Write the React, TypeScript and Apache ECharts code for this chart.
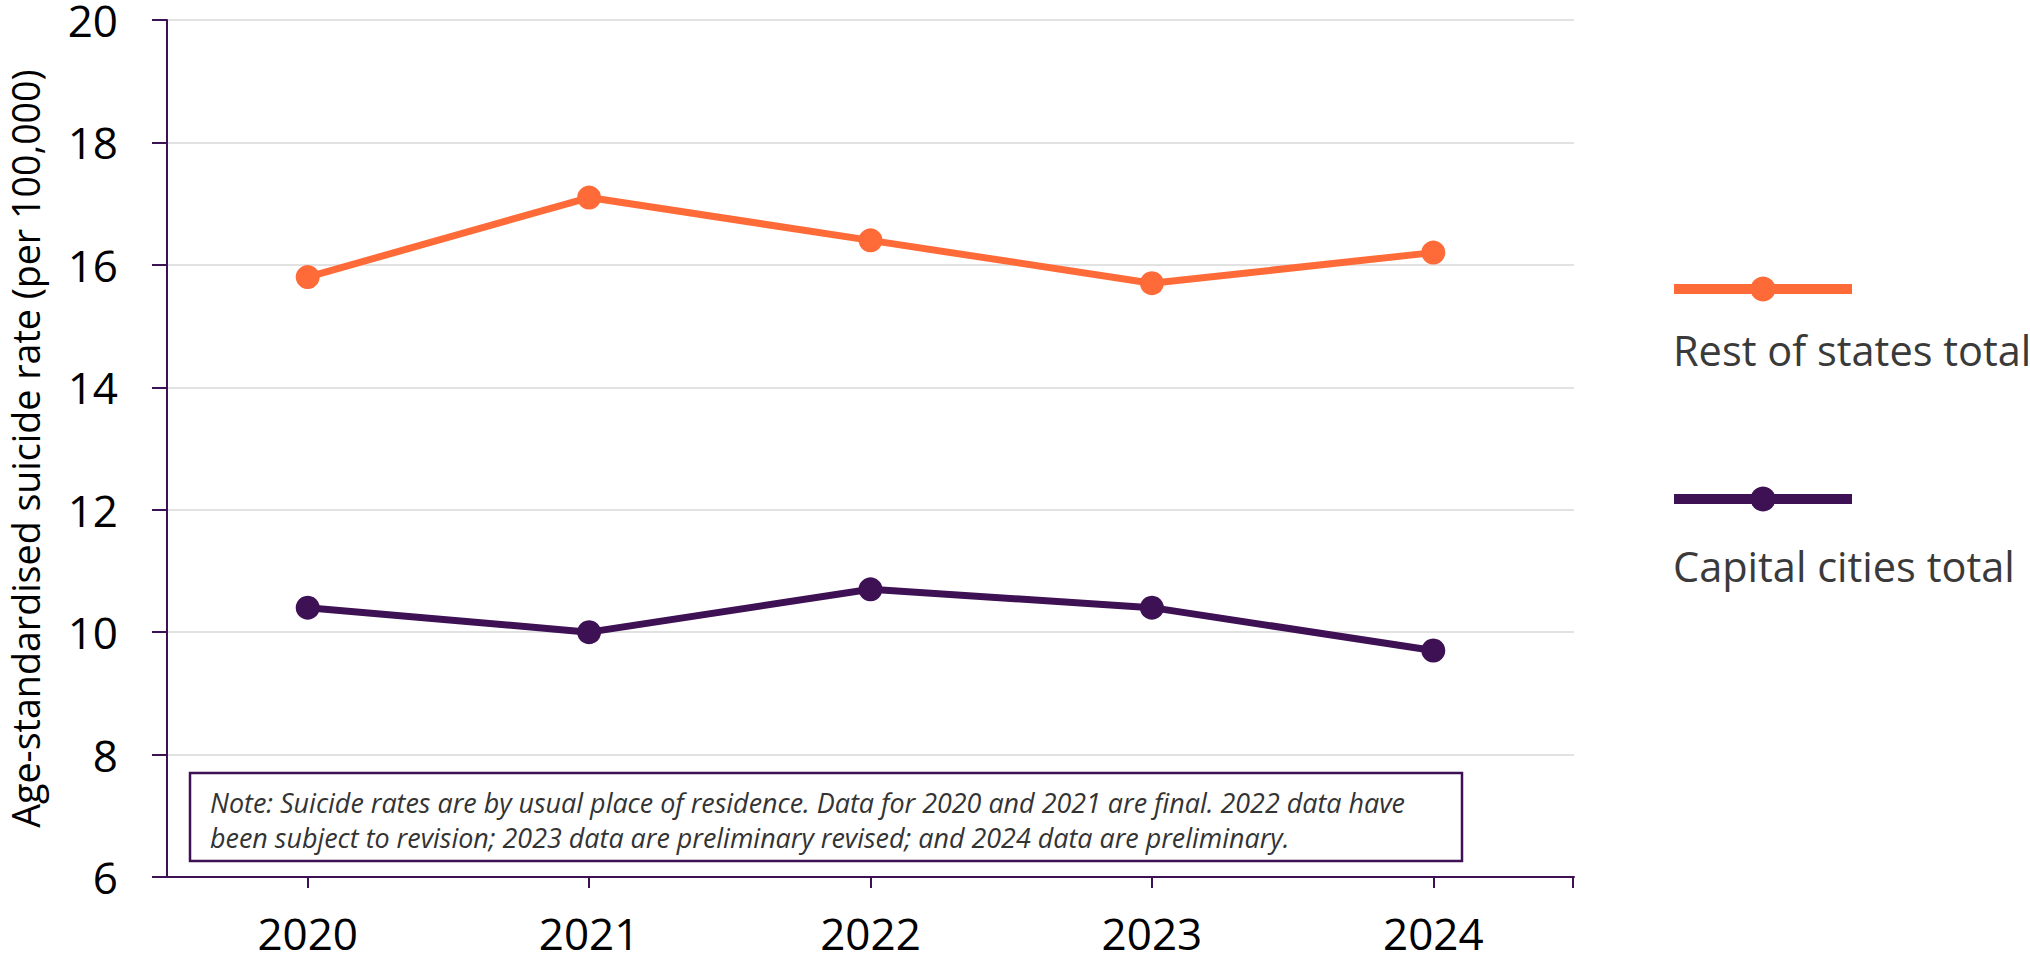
import React, { useEffect, useRef } from "react";
import * as echarts from "echarts";

const years = ["2020", "2021", "2022", "2023", "2024"];
const restOfStates = [15.8, 17.1, 16.4, 15.7, 16.2];
const capitalCities = [10.4, 10.0, 10.7, 10.4, 9.7];
const seriesNames = ["Rest of states total", "Capital cities total"];
const yAxisTitle = "Age-standardised suicide rate (per 100,000)";
const noteLines = [
  "Note: Suicide rates are by usual place of residence. Data for 2020 and 2021 are final. 2022 data have",
  "been subject to revision; 2023 data are preliminary revised; and 2024 data are preliminary.",
];

const ORANGE = "#FF6B38";
const PURPLE = "#3E1054";
const FONT = "'Open Sans', sans-serif";

export default function App() {
  const ref = useRef<HTMLDivElement>(null);
  useEffect(() => {
    if (!ref.current) return;
    const chart = echarts.init(ref.current, null, { renderer: "svg" });
    chart.setOption({
      animation: false,
      backgroundColor: "#ffffff",
      grid: {
        left: 167,
        right: 456,
        top: 20,
        bottom: 89,
        containLabel: false,
        outerBoundsMode: "none",
      },
      xAxis: {
        type: "category",
        data: years,
        boundaryGap: true,
        axisLine: { show: true, lineStyle: { color: PURPLE, width: 2 } },
        axisTick: { show: true, alignWithLabel: true, length: 11, lineStyle: { color: PURPLE, width: 2 } },
        axisLabel: { margin: 36, fontSize: 44, lineHeight: 40, color: "#000", fontFamily: FONT },
        splitLine: { show: false },
      },
      yAxis: {
        type: "value",
        min: 6,
        max: 20,
        interval: 2,
        name: yAxisTitle,
        nameLocation: "middle",
        nameGap: 122,
        nameTextStyle: { fontSize: 37.6, lineHeight: 40, color: "#000", fontFamily: FONT },
        axisLine: { show: true, lineStyle: { color: PURPLE, width: 2 } },
        axisTick: { show: true, length: 15, lineStyle: { color: PURPLE, width: 2 } },
        axisLabel: { margin: 49, fontSize: 44, lineHeight: 26, color: "#000", fontFamily: FONT },
        splitLine: { show: true, lineStyle: { color: "#d9d9d9", width: 1.5 } },
      },
      series: [
        {
          name: seriesNames[0],
          type: "line",
          data: restOfStates,
          symbol: "circle",
          symbolSize: 24,
          lineStyle: { color: ORANGE, width: 7 },
          itemStyle: { color: ORANGE },
          z: 3,
        },
        {
          name: seriesNames[1],
          type: "line",
          data: capitalCities,
          symbol: "circle",
          symbolSize: 24,
          lineStyle: { color: PURPLE, width: 7 },
          itemStyle: { color: PURPLE },
          z: 3,
        },
      ],
      graphic: [
        {
          type: "line",
          shape: { x1: 1573, y1: 877, x2: 1573, y2: 888 },
          style: { stroke: PURPLE, lineWidth: 2 },
        },
        {
          type: "rect",
          z: 100,
          shape: { x: 190, y: 773, width: 1272, height: 88 },
          style: { fill: "#ffffff", stroke: PURPLE, lineWidth: 2.5 },
        },
        {
          type: "text",
          z: 101,
          x: 210,
          y: 802,
          style: {
            text: noteLines[0],
            fontSize: 26.9,
            fontStyle: "italic",
            fontFamily: FONT,
            fill: "#333333",
            verticalAlign: "middle",
          },
        },
        {
          type: "text",
          z: 101,
          x: 210,
          y: 837,
          style: {
            text: noteLines[1],
            fontSize: 26.9,
            fontStyle: "italic",
            fontFamily: FONT,
            fill: "#333333",
            verticalAlign: "middle",
          },
        },
        // legend
        {
          type: "line",
          shape: { x1: 1674, y1: 289, x2: 1852, y2: 289 },
          style: { stroke: ORANGE, lineWidth: 10 },
        },
        { type: "circle", shape: { cx: 1763, cy: 289, r: 12.5 }, style: { fill: ORANGE } },
        {
          type: "text",
          x: 1673,
          y: 350,
          style: { text: seriesNames[0], fontSize: 41.5, fontFamily: FONT, fill: "#3a3a3a", verticalAlign: "middle" },
        },
        {
          type: "line",
          shape: { x1: 1674, y1: 499, x2: 1852, y2: 499 },
          style: { stroke: PURPLE, lineWidth: 10 },
        },
        { type: "circle", shape: { cx: 1763, cy: 499, r: 12.5 }, style: { fill: PURPLE } },
        {
          type: "text",
          x: 1673,
          y: 566,
          style: { text: seriesNames[1], fontSize: 41.5, fontFamily: FONT, fill: "#3a3a3a", verticalAlign: "middle" },
        },
      ],
    });
    return () => chart.dispose();
  }, []);
  return (
    <div
      ref={ref}
      style={{ position: "fixed", left: 0, top: 0, width: 2030, height: 966 }}
    />
  );
}
